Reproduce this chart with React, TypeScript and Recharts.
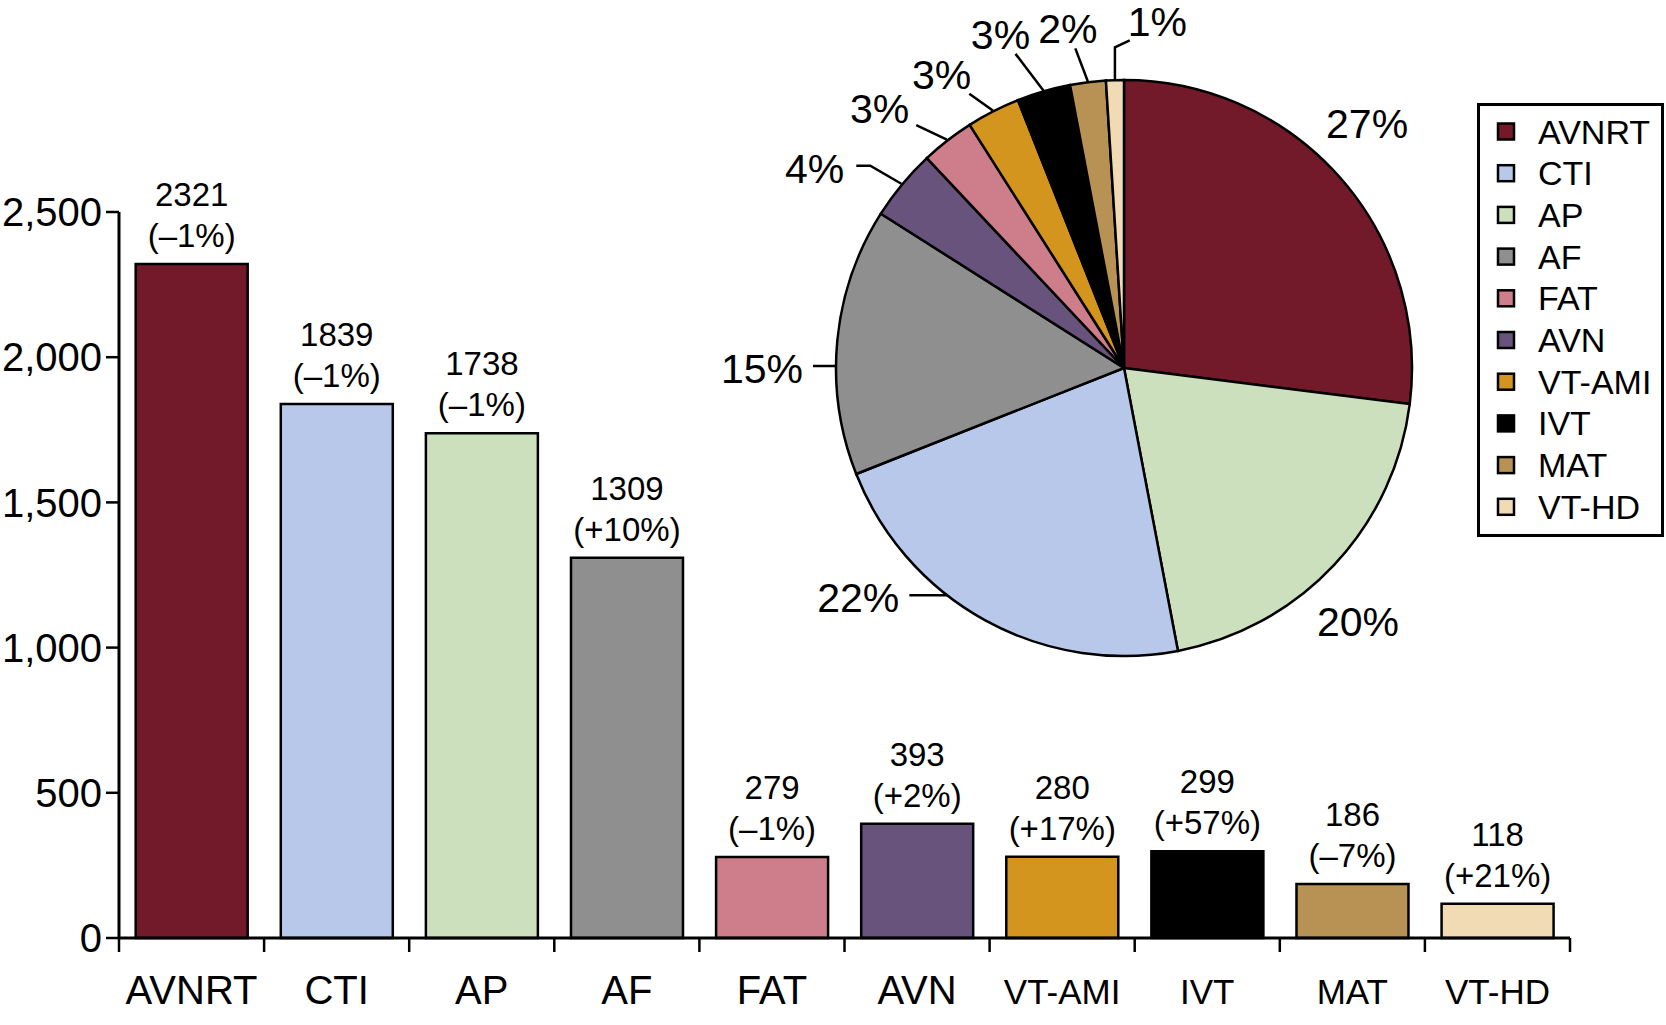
import React from 'react';
import { BarChart, Bar, XAxis, YAxis, Cell, LabelList, PieChart, Pie } from 'recharts';

if (typeof document !== 'undefined') {
  document.body.style.margin = '0';
}

const FONT = '"Liberation Sans", Arial, Helvetica, sans-serif';

// ---------- data ----------
const categories = ['AVNRT', 'CTI', 'AP', 'AF', 'FAT', 'AVN', 'VT-AMI', 'IVT', 'MAT', 'VT-HD'];
const procedureCounts = [2321, 1839, 1738, 1309, 279, 393, 280, 299, 186, 118];
const changePercent = [-1, -1, -1, 10, -1, 2, 17, 57, -7, 21];
const yTicks = [0, 500, 1000, 1500, 2000, 2500];

const pieCategories = ['AVNRT', 'AP', 'CTI', 'AF', 'AVN', 'FAT', 'VT-AMI', 'IVT', 'MAT', 'VT-HD'];
const pieShares = [27, 20, 22, 15, 4, 3, 3, 3, 2, 1];

// ---------- styles ----------
const colors: Record<string, string> = {
  AVNRT: '#721a2a',
  CTI: '#b8c8ea',
  AP: '#cde0bd',
  AF: '#8f8f8f',
  FAT: '#cd7e8a',
  AVN: '#68537c',
  'VT-AMI': '#d4951e',
  IVT: '#000000',
  MAT: '#b89254',
  'VT-HD': '#f1dbb4',
};

// label layout tweaks (pie order): angular nudge (deg, clockwise), radial gap beyond rim, leader style
const pieLabelAngleNudge = [-3.8, 4.1, 20.4, -5.4, -6.8, -5.4, -4.8, -4.1, -2.2, 7.3];
const pieLabelRadialGap = [57, 57, 63, 74, 80, 69, 58, 68, 56, 60];
const pieLeaderStyle = ['none', 'none', 'h', 'h', 'elbow', 'd', 'd', 'd', 'd', 'v'];

// ---------- layout ----------
const W = 1666;
const H = 1020;
const M_TOP = 212;
const M_RIGHT = 96;
const Y_AXIS_W = 119;
const PLOT_W = W - M_RIGHT - Y_AXIS_W;
const SMALL_TICK_FROM = 6;

const barData = categories.map((name, i) => ({ name, count: procedureCounts[i], change: changePercent[i] }));
const pieData = pieCategories.map((name, i) => ({ name, share: pieShares[i] }));

const fmtThousands = (v: number) => v.toLocaleString('en-US');
const fmtChange = (c: number) => `(${c > 0 ? '+' : '\u2013'}${Math.abs(c)}%)`;

const BAR_LABEL_FONT = 33;

const BarValueLabel = (props: any) => {
  const { x, y, width, index } = props;
  const cx = Number(x) + Number(width) / 2;
  const top = Number(y);
  return (
    <g>
      <text x={cx} y={top - 58} textAnchor="middle" fontSize={BAR_LABEL_FONT} fill="#000" fontFamily={FONT}>
        {procedureCounts[index]}
      </text>
      <text x={cx} y={top - 17} textAnchor="middle" fontSize={BAR_LABEL_FONT} fill="#000" fontFamily={FONT}>
        {fmtChange(changePercent[index])}
      </text>
    </g>
  );
};

const XTick = (props: any) => {
  const { x, y, payload, index } = props;
  const bw = PLOT_W / categories.length;
  const small = index >= SMALL_TICK_FROM;
  const left = x - bw / 2;
  const right = x + bw / 2;
  return (
    <g>
      <line x1={left} x2={left} y1={y} y2={y + 14} stroke="#000" strokeWidth={2.5} />
      {index === categories.length - 1 && (
        <line x1={right} x2={right} y1={y} y2={y + 14} stroke="#000" strokeWidth={2.5} />
      )}
      <text x={x} y={y + 66} textAnchor="middle" fontSize={small ? 35 : 40} fill="#000" fontFamily={FONT}>
        {payload.value}
      </text>
    </g>
  );
};

const RAD = Math.PI / 180;
const PIE_FONT = 41;

const renderPieLabel = (p: any) => {
  const { cx, cy, midAngle, outerRadius, index } = p;
  const share = pieShares[index];
  const la = midAngle - pieLabelAngleNudge[index];
  const lr = outerRadius + pieLabelRadialGap[index];
  const lx = cx + lr * Math.cos(-la * RAD);
  const ly = cy + lr * Math.sin(-la * RAD);
  const tw = (String(share).length * 0.556 + 0.889) * PIE_FONT;
  const hw = tw / 2;
  const hh = 0.36 * PIE_FONT;
  const sx = cx + (outerRadius + 1) * Math.cos(-midAngle * RAD);
  const sy = cy + (outerRadius + 1) * Math.sin(-midAngle * RAD);
  const style = pieLeaderStyle[index];
  let line: React.ReactNode = null;
  if (style === 'h') {
    const yy = ly - 2;
    const x0 = lx + hw + 10;
    const dyy = yy - cy;
    const rimX = cx - Math.sqrt(Math.max(0, outerRadius * outerRadius - dyy * dyy));
    line = <line x1={x0} y1={yy} x2={rimX} y2={yy} stroke="#000" strokeWidth={2.5} />;
  } else if (style === 'elbow') {
    const yy = ly - 3;
    const x0 = lx + hw + 12;
    const x1 = x0 + 14;
    line = <polyline points={`${x0},${yy} ${x1},${yy} ${sx},${sy}`} fill="none" stroke="#000" strokeWidth={2.5} />;
  } else if (style === 'v') {
    const x0 = lx - hw + 2;
    const y0 = ly + hh + 4;
    const py = y0 + 7;
    line = <polyline points={`${x0},${y0} ${sx},${py} ${sx},${sy}`} fill="none" stroke="#000" strokeWidth={2.5} />;
  } else if (style === 'd') {
    const bw = hw + 7;
    const bh = hh + 5;
    const dx = sx - lx;
    const dy = sy - ly;
    const t = Math.min(dx !== 0 ? bw / Math.abs(dx) : Infinity, dy !== 0 ? bh / Math.abs(dy) : Infinity);
    line = <line x1={sx} y1={sy} x2={lx + dx * t} y2={ly + dy * t} stroke="#000" strokeWidth={2.5} />;
  }
  return (
    <g>
      {line}
      <text x={lx} y={ly} dy="0.36em" textAnchor="middle" fontSize={PIE_FONT} fill="#000" fontFamily={FONT}>
        {`${share}%`}
      </text>
    </g>
  );
};

const LEG = { left: 1477, top: 103, width: 187, height: 434, row0: 28.5, rowStep: 41.7 };

const LegendBox = () => (
  <svg
    width={LEG.width}
    height={LEG.height}
    style={{ position: 'absolute', left: LEG.left, top: LEG.top, overflow: 'visible' }}
  >
    <rect x={1.5} y={1.5} width={LEG.width - 3} height={LEG.height - 3} fill="#fff" stroke="#000" strokeWidth={3} />
    {categories.map((name, i) => {
      const cyRow = LEG.row0 + i * LEG.rowStep;
      return (
        <g key={name}>
          <rect x={21} y={cyRow - 8} width={16} height={16} fill={colors[name]} stroke="#000" strokeWidth={2.5} />
          <text x={61} y={cyRow + 12} fontSize={34} fill="#000" fontFamily={FONT}>
            {name}
          </text>
        </g>
      );
    })}
  </svg>
);

export default function App() {
  return (
    <div style={{ position: 'relative', width: W, height: H, overflow: 'hidden', background: '#fff', fontFamily: FONT }}>
      <div style={{ position: 'absolute', left: 0, top: 0 }}>
        <BarChart
          width={W}
          height={H}
          data={barData}
          margin={{ top: M_TOP, right: M_RIGHT, bottom: 0, left: 0 }}
          barCategoryGap="11.5%"
        >
          <YAxis
            width={Y_AXIS_W}
            domain={[0, 2500]}
            ticks={yTicks}
            type="number"
            tickFormatter={fmtThousands}
            tickSize={13}
            tickMargin={4}
            axisLine={{ stroke: '#000', strokeWidth: 3 }}
            tickLine={{ stroke: '#000', strokeWidth: 2.5 }}
            tick={{ fontSize: 40, fill: '#000', fontFamily: FONT }}
            interval={0}
          />
          <XAxis
            dataKey="name"
            type="category"
            height={H - 938}
            tickLine={false}
            tickSize={0}
            tickMargin={0}
            interval={0}
            axisLine={{ stroke: '#000', strokeWidth: 3 }}
            tick={<XTick />}
          />
          <Bar dataKey="count" stroke="#000" strokeWidth={2.5} isAnimationActive={false}>
            {barData.map((d) => (
              <Cell key={d.name} fill={colors[d.name]} />
            ))}
            <LabelList dataKey="count" content={<BarValueLabel />} />
          </Bar>
        </BarChart>
      </div>
      <div style={{ position: 'absolute', left: 0, top: 0 }}>
        <PieChart width={W} height={H} margin={{ top: 0, right: 0, bottom: 0, left: 0 }}>
          <Pie
            data={pieData}
            dataKey="share"
            nameKey="name"
            cx={1124}
            cy={368}
            innerRadius={0}
            outerRadius={288}
            startAngle={90}
            endAngle={-270}
            stroke="#000"
            strokeWidth={2.5}
            isAnimationActive={false}
            labelLine={false}
            label={renderPieLabel}
          >
            {pieData.map((d) => (
              <Cell key={d.name} fill={colors[d.name]} />
            ))}
          </Pie>
        </PieChart>
      </div>
      <LegendBox />
    </div>
  );
}
